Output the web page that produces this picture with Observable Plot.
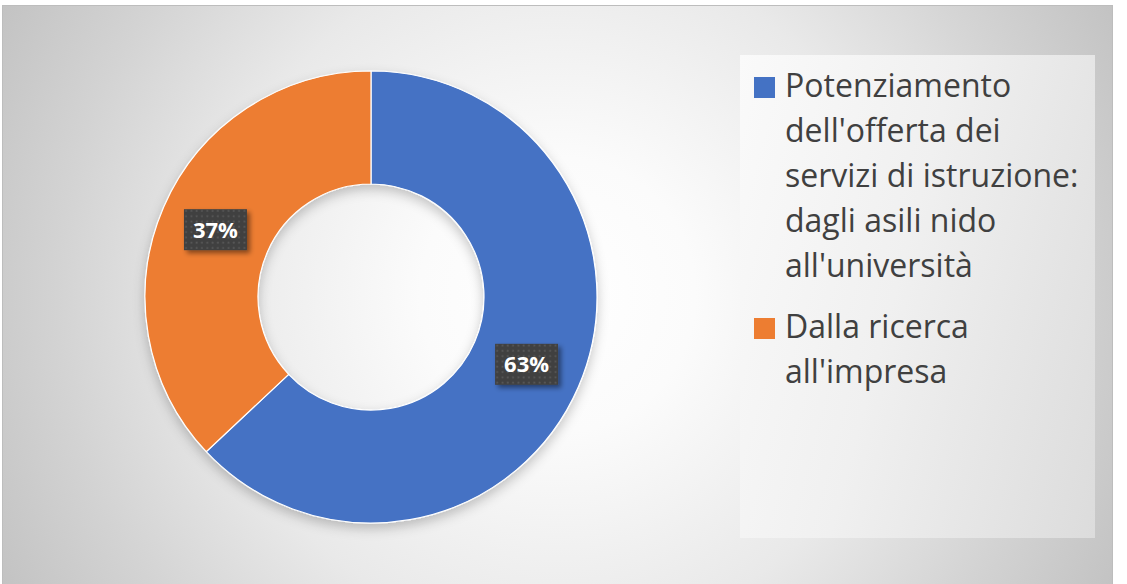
<!DOCTYPE html>
<html>
<head>
<meta charset="utf-8">
<script src="https://cdn.jsdelivr.net/npm/d3@7"></script>
<script src="https://cdn.jsdelivr.net/npm/@observablehq/plot@0.6"></script>
<style>
  html, body { margin: 0; padding: 0; background: #ffffff; width: 1127px; height: 584px; overflow: hidden; }
  #frame {
    position: absolute; left: 2px; top: 5px; width: 1111px; height: 579px; box-sizing: border-box;
    border: 1px solid #bdbdbd; border-bottom: none;
    background: radial-gradient(circle farthest-corner at 50% 50%, #ffffff 0%, #fbfbfb 22%, #e9e9e9 55%, #d3d3d3 80%, #c3c3c3 100%);
  }
  #legendbox {
    position: absolute; left: 740px; top: 55px; width: 355px; height: 483px;
    background: linear-gradient(105deg, #fafafa 0%, #f0f0f0 45%, #dcdcdc 100%);
  }
  #chart { position: absolute; left: 0; top: 0; }
  .item { position: absolute; left: 740px; width: 330px; font-family: "Open Sans", sans-serif; font-size: 32px; line-height: 45px; color: #404040; }
  .item .sw { position: absolute; left: 14px; top: 15px; width: 21px; height: 21px; }
  .item .tx { margin-left: 45px; width: 315px; }
</style>
</head>
<body>
<div id="frame"></div>
<div id="legendbox"></div>
<div id="chart"></div>
<div id="legend"></div>
<script>
const categories = ["Potenziamento dell'offerta dei servizi di istruzione: dagli asili nido all'università", "Dalla ricerca all'impresa"];
const values = [63, 37];
const labels = ["63%", "37%"];
const colors = ["#4472C4", "#ED7D31"];

const data = categories.map((c, i) => ({category: c, value: values[i], label: labels[i], color: colors[i]}));

const cx = 371, cy = 297, rOuter = 226, rInner = 113;
const pie = d3.pie().sort(null).value(d => d.value);
const arcs = pie(data);
const arcGen = d3.arc().innerRadius(rInner).outerRadius(rOuter);

function donut(index, scales, values, dims) {
  const g = d3.create("svg:g");
  const defs = g.append("defs");
  const pat = defs.append("pattern").attr("id", "dots").attr("width", 5.3).attr("height", 5.3).attr("patternUnits", "userSpaceOnUse");
  pat.append("rect").attr("width", 5.3).attr("height", 5.3).attr("fill", "#404040");
  pat.append("rect").attr("x", 1.5).attr("y", 1.5).attr("width", 1.8).attr("height", 1.8).attr("fill", "#585858");
  const f1 = defs.append("filter").attr("id", "dshadow").attr("x", "-20%").attr("y", "-20%").attr("width", "140%").attr("height", "140%");
  f1.append("feDropShadow").attr("dx", 0).attr("dy", 5).attr("stdDeviation", 6).attr("flood-color", "#000").attr("flood-opacity", 0.22);
  const f2 = defs.append("filter").attr("id", "lshadow").attr("x", "-30%").attr("y", "-30%").attr("width", "160%").attr("height", "160%");
  f2.append("feDropShadow").attr("dx", 3).attr("dy", 3).attr("stdDeviation", 2.5).attr("flood-color", "#000").attr("flood-opacity", 0.45);

  const x0 = scales.x(cx), y0 = scales.y(cy);
  const ring = g.append("g").attr("transform", `translate(${x0},${y0})`).attr("filter", "url(#dshadow)");
  ring.selectAll("path").data(arcs).join("path")
    .attr("d", arcGen).attr("fill", d => d.data.color)
    .attr("stroke", "#ffffff").attr("stroke-width", 1.2);

  const lab = g.append("g").attr("transform", `translate(${x0},${y0})`);
  const bw = 63, bh = 41;
  const boxes = lab.selectAll("g").data(arcs).join("g")
    .attr("transform", d => { const [a, b] = arcGen.centroid(d); return `translate(${a},${b})`; });
  boxes.append("rect").attr("x", -bw / 2).attr("y", -bh / 2).attr("width", bw).attr("height", bh)
    .attr("fill", "url(#dots)").attr("filter", "url(#lshadow)");
  boxes.append("text").text(d => d.data.label)
    .attr("text-anchor", "middle").attr("dy", "0.36em")
    .attr("fill", "#ffffff").attr("font-family", "'Open Sans', sans-serif")
    .attr("font-weight", "bold").attr("font-size", 22);
  return g.node();
}

const chart = Plot.plot({
  width: 1127,
  height: 584,
  margin: 0,
  x: {type: "identity", axis: null},
  y: {type: "identity", axis: null},
  style: {background: "transparent"},
  marks: [donut]
});
document.getElementById("chart").appendChild(chart);

const tops = [62, 303];
const legend = d3.select("#legend");
data.forEach((d, i) => {
  const it = legend.append("div").attr("class", "item").style("top", tops[i] + "px");
  it.append("div").attr("class", "sw").style("background", d.color);
  it.append("div").attr("class", "tx").text(d.category);
});
</script>
</body>
</html>
